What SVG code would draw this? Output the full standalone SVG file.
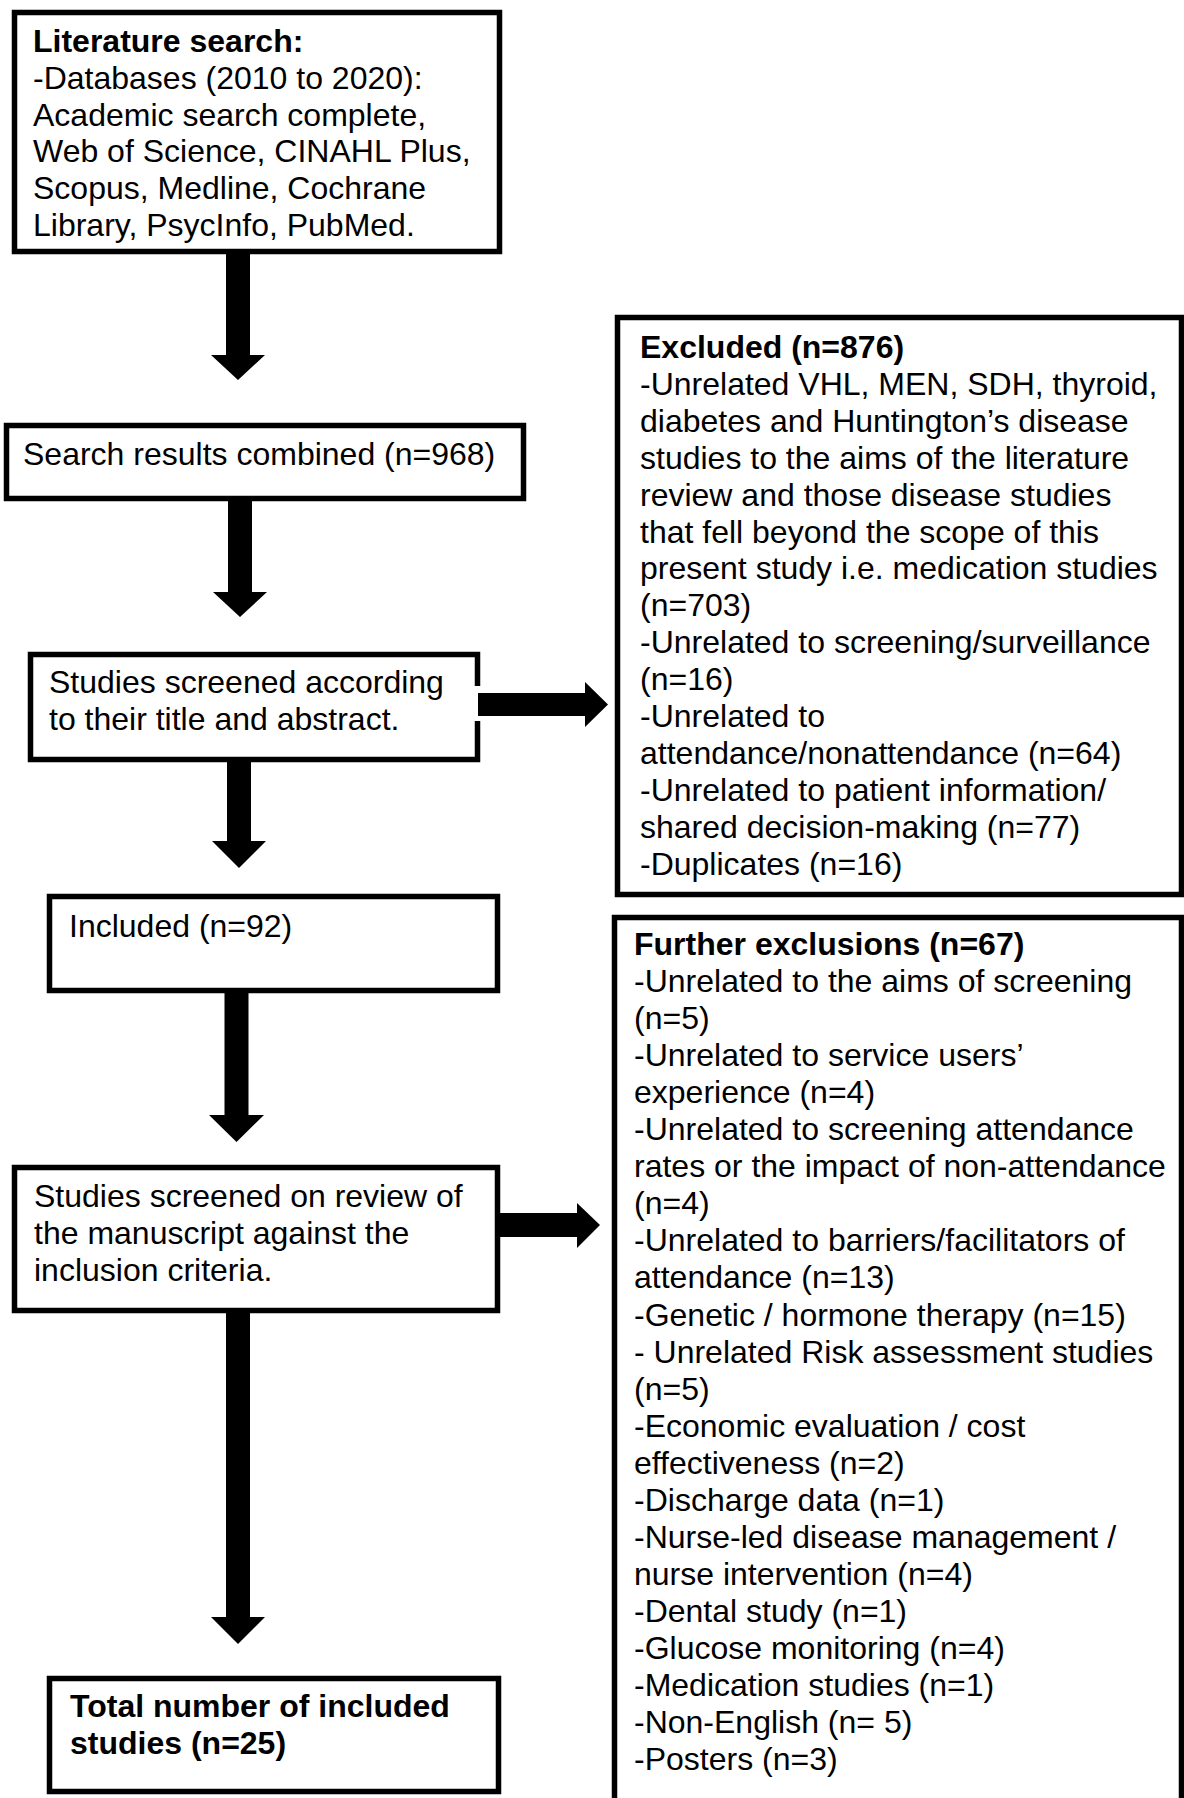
<svg xmlns="http://www.w3.org/2000/svg" width="1184" height="1798" viewBox="0 0 1184 1798">
  <style>
    .box { fill: #fff; stroke: #000; stroke-width: 5.5; }
    text { font-family: "Liberation Sans", Arial, Helvetica, sans-serif; font-size: 32px; fill: #000; }
    .b { font-weight: bold; }
    .arrow { fill: #000; stroke: none; }
  </style>
  <rect width="1184" height="1798" fill="#fff"/>

  <!-- search flow boxes -->
  <g id="literature-search">
    <rect class="box" x="14.5" y="12.5" width="485" height="239"/>
    <text x="33" y="52"><tspan class="b">Literature search:</tspan><tspan x="33" dy="36.8">-Databases (2010 to 2020):</tspan><tspan x="33" dy="36.8">Academic search complete,</tspan><tspan x="33" dy="36.8">Web of Science, CINAHL Plus,</tspan><tspan x="33" dy="36.8">Scopus, Medline, Cochrane</tspan><tspan x="33" dy="36.8">Library, PsycInfo, PubMed.</tspan></text>
  </g>

  <g id="search-combined">
    <rect class="box" x="6.5" y="425.5" width="517" height="73"/>
    <text x="23" y="465">Search results combined (n=968)</text>
  </g>

  <g id="screened-title-abstract">
    <rect class="box" x="30.5" y="654.5" width="447" height="105"/>
    <text x="49" y="693">Studies screened according<tspan x="49" dy="36.8">to their title and abstract.</tspan></text>
  </g>

  <g id="included">
    <rect class="box" x="49.5" y="896.5" width="448" height="94"/>
    <text x="69" y="937">Included (n=92)</text>
  </g>

  <g id="screened-manuscript">
    <rect class="box" x="14.5" y="1167.5" width="483" height="143"/>
    <text x="34" y="1207">Studies screened on review of<tspan x="34" dy="36.8">the manuscript against the</tspan><tspan x="34" dy="36.8">inclusion criteria.</tspan></text>
  </g>

  <g id="total-included">
    <rect class="box" x="49.5" y="1678.5" width="449" height="113"/>
    <text class="b" x="70" y="1717">Total number of included<tspan x="70" dy="36.8">studies (n=25)</tspan></text>
  </g>

  <!-- exclusion boxes on the right -->
  <g id="excluded">
    <rect class="box" x="617.5" y="317.5" width="564" height="577"/>
    <text x="640" y="358"><tspan class="b">Excluded (n=876)</tspan><tspan x="640" dy="36.9">-Unrelated VHL, MEN, SDH, thyroid,</tspan><tspan x="640" dy="36.9">diabetes and Huntington’s disease</tspan><tspan x="640" dy="36.9">studies to the aims of the literature</tspan><tspan x="640" dy="36.9">review and those disease studies</tspan><tspan x="640" dy="36.9">that fell beyond the scope of this</tspan><tspan x="640" dy="36.9">present study i.e. medication studies</tspan><tspan x="640" dy="36.9">(n=703)</tspan><tspan x="640" dy="36.9">-Unrelated to screening/surveillance</tspan><tspan x="640" dy="36.9">(n=16)</tspan><tspan x="640" dy="36.9">-Unrelated to</tspan><tspan x="640" dy="36.9">attendance/nonattendance (n=64)</tspan><tspan x="640" dy="36.9">-Unrelated to patient information/</tspan><tspan x="640" dy="36.9">shared decision-making (n=77)</tspan><tspan x="640" dy="36.9">-Duplicates (n=16)</tspan></text>
  </g>

  <g id="further-exclusions">
    <rect class="box" x="614.5" y="917.5" width="567" height="900"/>
    <text x="634" y="955"><tspan class="b">Further exclusions (n=67)</tspan><tspan x="634" dy="37.05">-Unrelated to the aims of screening</tspan><tspan x="634" dy="37.05">(n=5)</tspan><tspan x="634" dy="37.05">-Unrelated to service users’</tspan><tspan x="634" dy="37.05">experience (n=4)</tspan><tspan x="634" dy="37.05">-Unrelated to screening attendance</tspan><tspan x="634" dy="37.05">rates or the impact of non-attendance</tspan><tspan x="634" dy="37.05">(n=4)</tspan><tspan x="634" dy="37.05">-Unrelated to barriers/facilitators of</tspan><tspan x="634" dy="37.05">attendance (n=13)</tspan><tspan x="634" dy="37.05">-Genetic / hormone therapy (n=15)</tspan><tspan x="634" dy="37.05">- Unrelated Risk assessment studies</tspan><tspan x="634" dy="37.05">(n=5)</tspan><tspan x="634" dy="37.05">-Economic evaluation / cost</tspan><tspan x="634" dy="37.05">effectiveness (n=2)</tspan><tspan x="634" dy="37.05">-Discharge data (n=1)</tspan><tspan x="634" dy="37.05">-Nurse-led disease management /</tspan><tspan x="634" dy="37.05">nurse intervention (n=4)</tspan><tspan x="634" dy="37.05">-Dental study (n=1)</tspan><tspan x="634" dy="37.05">-Glucose monitoring (n=4)</tspan><tspan x="634" dy="37.05">-Medication studies (n=1)</tspan><tspan x="634" dy="37.05">-Non-English (n= 5)</tspan><tspan x="634" dy="37.05">-Posters (n=3)</tspan></text>
  </g>

  <!-- block arrows between the boxes -->
  <g id="connectors">
    <polygon class="arrow" points="226,252 250,252 250,355 265,355 238,380 211,355 226,355"/>
    <polygon class="arrow" points="228,499 252,499 252,592 267,592 240,617 213,592 228,592"/>
    <polygon class="arrow" points="227,760 251,760 251,841 266,841 239,868 212,841 227,841"/>
    <polygon class="arrow" points="224.5,991 248.5,991 248.5,1115 264,1115 236.5,1142 209,1115 224.5,1115"/>
    <polygon class="arrow" points="226,1311 250,1311 250,1617 265,1617 238,1644 211,1617 226,1617"/>
    <!-- sideways arrows into the exclusion boxes -->
    <rect x="472" y="686" width="10" height="35" fill="#fff"/>
    <polygon class="arrow" points="478,693 585,693 585,682 608,704.5 585,727 585,716 478,716"/>
    <polygon class="arrow" points="497,1213 577,1213 577,1203 600,1225 577,1248 577,1237 497,1237"/>
  </g>
</svg>
